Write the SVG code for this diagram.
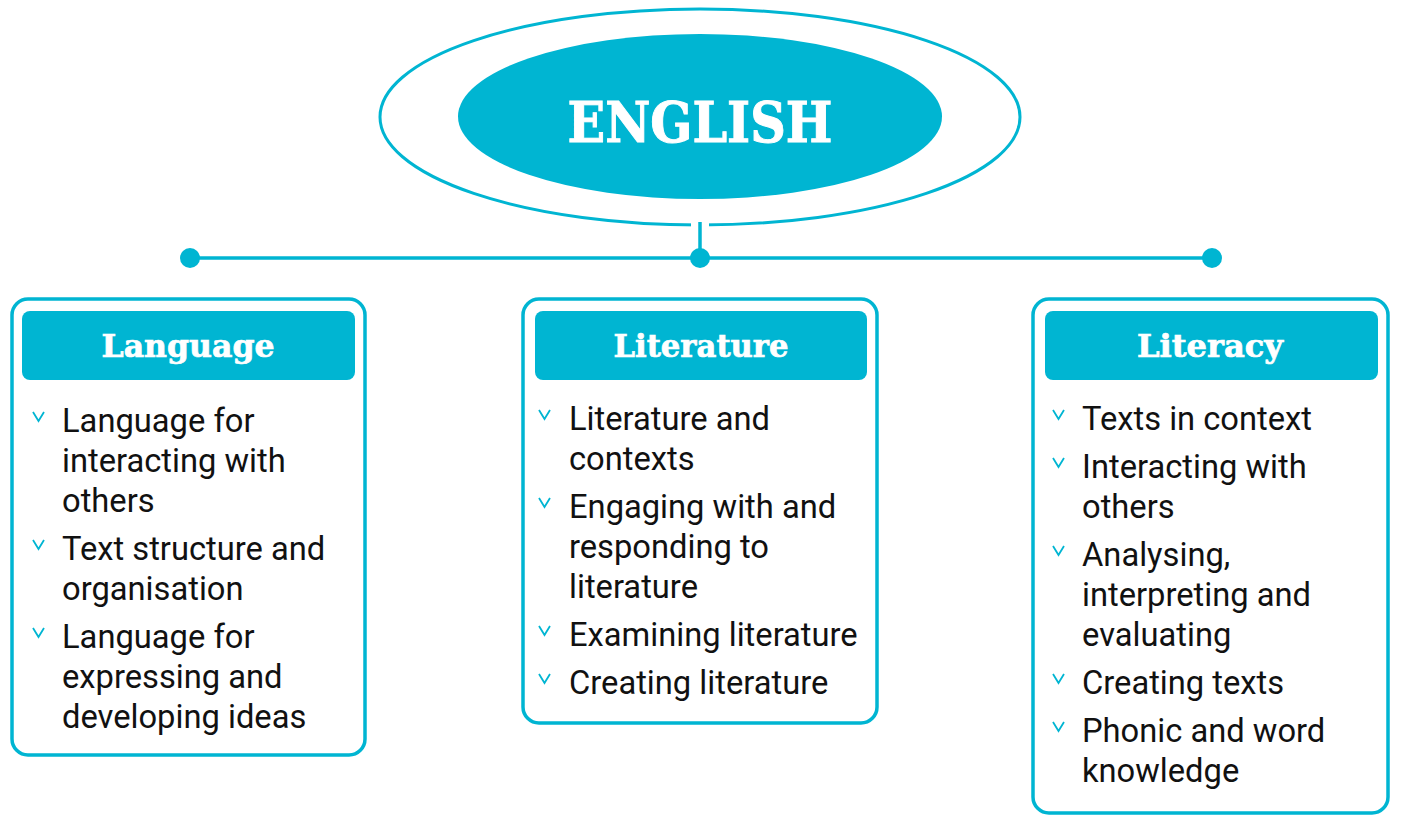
<svg xmlns="http://www.w3.org/2000/svg" width="1405" height="834" viewBox="0 0 1405 834">
<style>
.teal{fill:#00B5D2}
.box{fill:#fff;stroke:#00B5D2;stroke-width:3.5}
.hdr{fill:#00B5D2}
.htxt{font-family:"DejaVu Serif","Liberation Serif",serif;font-weight:bold;font-size:31px;fill:#fff;stroke:#fff;stroke-width:0.7;text-anchor:middle}
.item{font-family:Roboto,"Liberation Sans",sans-serif;font-size:32.7px;fill:#111}
.chev{fill:none;stroke:#00B5D2;stroke-width:1.8}
.line{stroke:#00B5D2;stroke-width:3.5;fill:none}
</style>
<rect width="1405" height="834" fill="#fff"/>
<g id="english">
<ellipse cx="700" cy="117" rx="320" ry="108" fill="#fff" stroke="#00B5D2" stroke-width="3"/>
<ellipse cx="700" cy="116.5" rx="242" ry="82.5" class="teal"/>
<text x="700" y="142" font-family="'DejaVu Serif','Liberation Serif',serif" font-weight="bold" font-size="56" fill="#fff" stroke="#fff" stroke-width="1" text-anchor="middle" textLength="265" lengthAdjust="spacingAndGlyphs">ENGLISH</text>
</g>
<g id="connectors">
<rect x="691" y="218" width="18" height="12" fill="#fff"/>
<line class="line" x1="700" y1="222" x2="700" y2="258"/>
<line class="line" x1="190" y1="258" x2="1212" y2="258"/>
<circle cx="190" cy="258" r="10" class="teal"/>
<circle cx="700" cy="258" r="10" class="teal"/>
<circle cx="1212" cy="258" r="10" class="teal"/>
</g>
<g id="language">
<rect class="box" x="12" y="299" width="353" height="456" rx="16"/>
<rect class="hdr" x="22" y="311" width="333" height="69" rx="8"/>
<text class="htxt" x="188" y="357" textLength="173" lengthAdjust="spacingAndGlyphs">Language</text>
<path class="chev" d="M33 412 L38.5 421 L44 412"/>
<path class="chev" d="M33 540 L38.5 549 L44 540"/>
<path class="chev" d="M33 628 L38.5 637 L44 628"/>
<text class="item" x="62" y="432">Language for</text>
<text class="item" x="62" y="472">interacting with</text>
<text class="item" x="62" y="512">others</text>
<text class="item" x="62" y="560">Text structure and</text>
<text class="item" x="62" y="600">organisation</text>
<text class="item" x="62" y="648">Language for</text>
<text class="item" x="62" y="688">expressing and</text>
<text class="item" x="62" y="728">developing ideas</text>
</g>
<g id="literature">
<rect class="box" x="523" y="299" width="354" height="424" rx="16"/>
<rect class="hdr" x="535" y="311" width="332" height="69" rx="8"/>
<text class="htxt" x="701" y="357" textLength="175" lengthAdjust="spacingAndGlyphs">Literature</text>
<path class="chev" d="M539 410 L544.5 419 L550 410"/>
<path class="chev" d="M539 498 L544.5 507 L550 498"/>
<path class="chev" d="M539 626 L544.5 635 L550 626"/>
<path class="chev" d="M539 674 L544.5 683 L550 674"/>
<text class="item" x="569" y="430">Literature and</text>
<text class="item" x="569" y="470">contexts</text>
<text class="item" x="569" y="518">Engaging with and</text>
<text class="item" x="569" y="558">responding to</text>
<text class="item" x="569" y="598">literature</text>
<text class="item" x="569" y="646">Examining literature</text>
<text class="item" x="569" y="694">Creating literature</text>
</g>
<g id="literacy">
<rect class="box" x="1033" y="299" width="355" height="514" rx="16"/>
<rect class="hdr" x="1045" y="311" width="333" height="69" rx="8"/>
<text class="htxt" x="1210" y="357" textLength="146" lengthAdjust="spacingAndGlyphs">Literacy</text>
<path class="chev" d="M1053 410 L1058.5 419 L1064 410"/>
<path class="chev" d="M1053 458 L1058.5 467 L1064 458"/>
<path class="chev" d="M1053 546 L1058.5 555 L1064 546"/>
<path class="chev" d="M1053 674 L1058.5 683 L1064 674"/>
<path class="chev" d="M1053 722 L1058.5 731 L1064 722"/>
<text class="item" x="1082" y="430">Texts in context</text>
<text class="item" x="1082" y="478">Interacting with</text>
<text class="item" x="1082" y="518">others</text>
<text class="item" x="1082" y="566">Analysing,</text>
<text class="item" x="1082" y="606">interpreting and</text>
<text class="item" x="1082" y="646">evaluating</text>
<text class="item" x="1082" y="694">Creating texts</text>
<text class="item" x="1082" y="742">Phonic and word</text>
<text class="item" x="1082" y="782">knowledge</text>
</g>
</svg>
